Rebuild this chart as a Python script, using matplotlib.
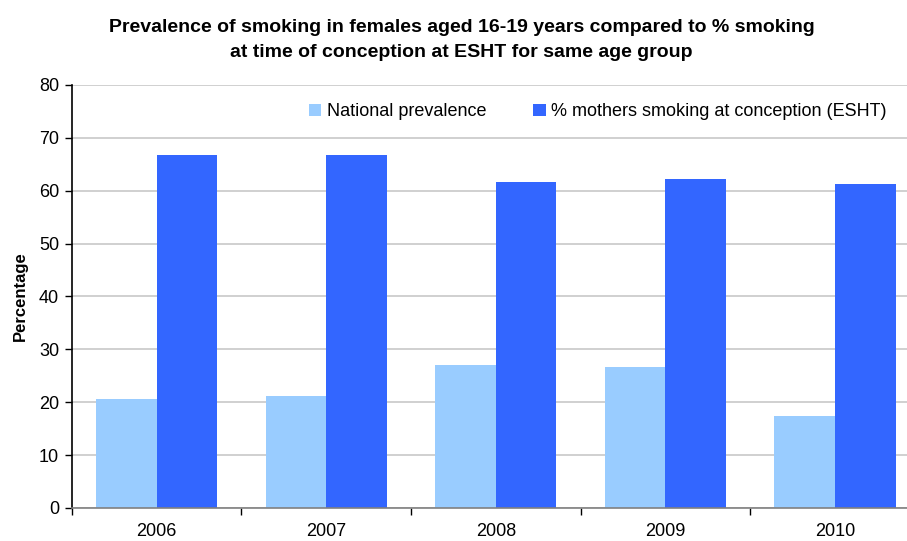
import matplotlib
matplotlib.use("Agg")
import matplotlib.pyplot as plt
import numpy as np

years = ["2006", "2007", "2008", "2009", "2010"]
national = [20.6, 21.2, 27.0, 26.7, 17.4]
esht = [66.7, 66.7, 61.6, 62.2, 61.2]

plt.rcParams['font.family'] = ['Liberation Sans', 'DejaVu Sans']

fig = plt.figure(figsize=(9.07, 5.41), dpi=100)
ax = fig.add_axes([0.0791, 0.0610, 0.935, 0.782])

x = np.arange(len(years))
w = 0.357
ax.bar(x - w / 2, national, width=w, color="#99CCFF", label="National prevalence", zorder=2)
ax.bar(x + w / 2, esht, width=w, color="#3366FF", label="% mothers smoking at conception (ESHT)", zorder=2)

ax.set_xlim(-0.5, len(years) - 0.5)
ax.set_ylim(0, 80)
ax.set_yticks(np.arange(0, 81, 10))
ax.yaxis.grid(True, color="#C8C8C8", linewidth=1.2, zorder=0)
ax.set_axisbelow(True)

ax.set_xticks(x)
ax.set_xticklabels(years, fontsize=13)
ax.set_xticks(np.arange(-0.5, len(years), 1.0), minor=True)
ax.tick_params(axis='x', which='major', length=0, pad=11)
ax.tick_params(axis='x', which='minor', length=5, width=1, color="black")
ax.tick_params(axis='y', length=5, width=1, labelsize=13, pad=4)

for s in ["top", "right"]:
    ax.spines[s].set_visible(False)
ax.spines["bottom"].set_color("#808080")
ax.spines["bottom"].set_linewidth(1.2)
ax.spines["left"].set_color("black")
ax.spines["left"].set_linewidth(1.2)

ax.set_ylabel("Percentage", fontsize=12, fontweight="bold", labelpad=8)

fig.suptitle("Prevalence of smoking in females aged 16-19 years compared to % smoking\nat time of conception at ESHT for same age group",
             x=0.509, y=0.964, fontsize=14, fontweight="bold", linespacing=1.6)

fig.legend(loc="center", bbox_to_anchor=(0.659, 0.793), ncol=2, frameon=False,
           fontsize=13, handlelength=0.7, handleheight=0.7, handletextpad=0.3,
           columnspacing=2.6)

fig.savefig("out.png", dpi=100)
